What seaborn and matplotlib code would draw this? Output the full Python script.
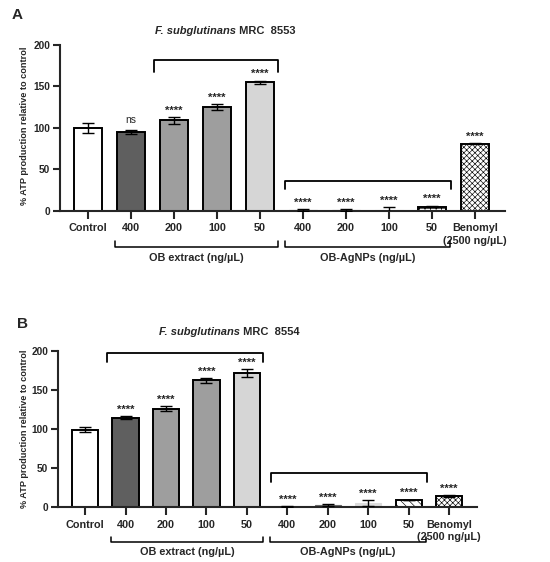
import numpy as np
import pandas as pd
import matplotlib
matplotlib.use("Agg")
import matplotlib.pyplot as plt
import matplotlib.transforms as mtransforms
import seaborn as sns

# ---------------- data ----------------
keys = ["Control", "E400", "E200", "E100", "E50", "N400", "N200", "N100", "N50", "Benomyl"]
tick_labels = ["Control", "400", "200", "100", "50", "400", "200", "100", "50", "Benomyl\n(2500 ng/\u00b5L)"]

mean_a = [100, 95, 109, 125, 155, 1.0, 1.2, 0.5, 5, 81]
err_a = [6, 3, 4, 4, 2, 1.0, 1.0, 3.5, 1.0, 0.5]
sig_a = ["", "ns", "****", "****", "****", "****", "****", "****", "****", "****"]

mean_b = [99, 114, 126, 162, 171, 0.5, 2.5, 5, 9, 14]
err_b = [3, 2, 3, 3, 5, 1.0, 1.0, 3.5, 0.5, 1.5]
sig_b = ["", "****", "****", "****", "****", "****", "****", "****", "****", "****"]

strains = ["8553", "8554"]
panel_letters = ["A", "B"]
group_labels = ["OB extract (ng/\u00b5L)", "OB-AgNPs (ng/\u00b5L)"]

fills = ["#ffffff", "#5f5f5f", "#9e9e9e", "#9e9e9e", "#d6d6d6",
         "#5f5f5f", "#6a6a6a", "#dcdcdc", "#ffffff", "#ffffff"]

# ---------------- style ----------------
sns.set_theme(style="ticks")
plt.rcParams["font.family"] = ["Liberation Sans", "DejaVu Sans"]
plt.rcParams["hatch.linewidth"] = 0.45

fig = plt.figure(figsize=(5.5, 5.62), dpi=100)
ax_a = fig.add_axes([60 / 550, 1 - 210.7 / 562, 445 / 550, 165.7 / 562])
ax_b = fig.add_axes([58 / 550, 1 - 507 / 562, 419 / 550, 156.3 / 562])

panels = [
    dict(ax=ax_a, mean=mean_a, err=err_a, sig=sig_a, strain=strains[0], letter=panel_letters[0],
         hatch50="+++", xl=(-0.65, 9.70),
         top_br=(1.53, 4.42, 182, 168), low_br=(4.58, 8.44, 36, 26),
         grp_y=(-0.219, -0.181, -0.285),
         letter_pos=(0.022, 0.973), title_pos=(236 / 550, 0.944), ylab_pos=(0.045, 0.776)),
    dict(ax=ax_b, mean=mean_b, err=err_b, sig=sig_b, strain=strains[1], letter=panel_letters[1],
         hatch50="\\\\\\\\", xl=(-0.67, 9.69),
         top_br=(0.54, 4.41, 197, 186), low_br=(4.59, 8.46, 43, 32),
         grp_y=(-0.226, -0.190, -0.287),
         letter_pos=(0.031, 0.423), title_pos=(240 / 550, 0.41), ylab_pos=(0.045, 0.237)),
]

for p in panels:
    ax = p["ax"]
    df = pd.DataFrame({"cond": keys, "val": p["mean"]})
    sns.barplot(data=df, x="cond", y="val", hue="cond", palette=fills, legend=False,
                width=0.65, edgecolor="black", linewidth=1.4, ax=ax, errorbar=None,
                saturation=1)
    bars = ax.patches
    for i, b in enumerate(bars):
        if i == 8:
            b.set_hatch(p["hatch50"])
        if i == 9:
            b.set_hatch("xxxxxx")
            if hasattr(b, "set_hatchcolor"):
                b.set_hatchcolor("#777777")
        if i in (5, 6, 7):
            b.set_edgecolor(fills[i])
            b.set_linewidth(0.8)
    xs = np.arange(len(keys))
    ax.errorbar(xs, p["mean"], yerr=p["err"], fmt="none", ecolor="black",
                elinewidth=1.0, capsize=4.5, capthick=1.0, zorder=5)
    for i, s in enumerate(p["sig"]):
        if not s:
            continue
        top = p["mean"][i] + p["err"][i]
        ax.annotate(s, (xs[i], top), xytext=(0, 1 if s != "ns" else 3),
                    textcoords="offset points", ha="center", va="bottom",
                    fontsize=8 if s != "ns" else 7.5,
                    fontweight="bold" if s != "ns" else "normal")

    ax.set_xlim(*p["xl"])
    ax.set_ylim(0, 200)
    ax.set_yticks([0, 50, 100, 150, 200])
    ax.set_xticks(xs)
    ax.set_xticklabels(tick_labels, fontsize=7.8, fontweight="bold", va="top",
                       linespacing=1.3)
    for lbl in ax.get_yticklabels():
        lbl.set_fontweight("bold")
        lbl.set_fontsize(7.3)
    ax.set_xlabel("")
    ax.set_ylabel("")
    sns.despine(ax=ax)
    for sp in ("left", "bottom"):
        ax.spines[sp].set_linewidth(1.5)
    ax.tick_params(axis="x", length=6, width=1.5, pad=3)
    ax.tick_params(axis="y", length=5, width=1.5, pad=2)

    # top brackets (data coords)
    x0, x1, yt, yd = p["top_br"]
    ax.plot([x0, x0, x1, x1], [yd, yt, yt, yd], color="black", lw=1.3, clip_on=False)
    x0, x1, yt, yd = p["low_br"]
    ax.plot([x0, x0, x1, x1], [yd, yt, yt, yd], color="black", lw=1.3, clip_on=False)

    # group brackets below axis
    trans = mtransforms.blended_transform_factory(ax.transData, ax.transAxes)
    yb, yu, ylab = p["grp_y"]
    for (g0, g1), lab in zip([(0.64, 4.41), (4.58, 8.43)], group_labels):
        ax.plot([g0, g0, g1, g1], [yu, yb, yb, yu], color="black", lw=1.1,
                transform=trans, clip_on=False)
        ax.text((g0 + g1) / 2, ylab, lab, transform=trans, ha="center", va="center",
                fontsize=7.8, fontweight="bold")

    fig.text(*p["letter_pos"], p["letter"], fontsize=11, fontweight="bold",
             ha="left", va="center")
    tx, ty = p["title_pos"]
    fig.text(tx, ty, "F. subglutinans", ha="right", va="center", fontsize=8,
             fontweight="bold", fontstyle="italic")
    fig.text(tx, ty, " MRC  " + p["strain"], ha="left", va="center", fontsize=8,
             fontweight="bold")
    fig.text(*p["ylab_pos"], "% ATP production relative to control", rotation=90,
             ha="center", va="center", fontsize=6.6, fontweight="bold")

fig.savefig("out.png", dpi=100)
